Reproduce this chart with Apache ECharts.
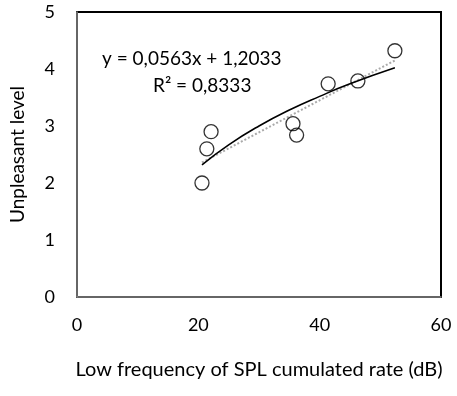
<!DOCTYPE html>
<html><head><meta charset="utf-8">
<script src="https://cdn.jsdelivr.net/npm/echarts@6/dist/echarts.min.js"></script>
<style>html,body{margin:0;padding:0;background:#fff}#c{width:457px;height:396px}</style>
</head><body><div id="c"></div>
<script>
// Observed points (x: Low frequency of SPL cumulated rate dB, y: Unpleasant level)
var pointsX = [20.6, 21.4, 22.1, 35.6, 36.2, 41.4, 46.3, 52.4];
var pointsY = [2.0, 2.6, 2.9, 3.04, 2.84, 3.74, 3.79, 4.32];
// Solid curve
var curveX = [20.6, 25, 30, 35, 40, 45, 52.4];
var curveY = [2.32, 2.67, 3.0, 3.28, 3.52, 3.74, 4.02];
// Dotted linear trend line endpoints (y = 0,0563x + 1,2033)
var trendX = [20.6, 52.4];
var trendY = [2.36, 4.15];
var xTicks = [0, 20, 40, 60];
var yTicks = [0, 1, 2, 3, 4, 5];
var eqText = 'y = 0,0563x + 1,2033';
var r2Text = 'R² = 0,8333';

function zip(a, b) { return a.map(function (v, i) { return [v, b[i]]; }); }
var FONT = 'Lato';
var chart = echarts.init(document.getElementById('c'));
chart.setOption({
  animation: false,
  backgroundColor: '#fff',
  grid: { left: 77, right: 16, top: 12, bottom: 99, show: true, borderColor: '#000', borderWidth: 2, backgroundColor: 'transparent' },
  xAxis: {
    type: 'value', min: xTicks[0], max: xTicks[xTicks.length - 1], interval: 20,
    name: 'Low frequency of SPL cumulated rate (dB)', nameLocation: 'middle', nameGap: 63,
    nameTextStyle: { fontFamily: FONT, fontSize: 20, color: '#000' },
    axisLine: { show: true, lineStyle: { color: '#888', width: 1.5 } },
    axisTick: { show: false }, splitLine: { show: false },
    axisLabel: { margin: 19, fontFamily: FONT, fontSize: 18, color: '#000' }
  },
  yAxis: {
    type: 'value', min: yTicks[0], max: yTicks[yTicks.length - 1], interval: 1,
    name: 'Unpleasant level', nameLocation: 'middle', nameGap: 50,
    nameTextStyle: { fontFamily: FONT, fontSize: 19, color: '#000' },
    axisLine: { show: true, lineStyle: { color: '#888', width: 1.5 } },
    axisTick: { show: false }, splitLine: { show: false },
    axisLabel: { margin: 22, fontFamily: FONT, fontSize: 18, color: '#000' }
  },
  series: [
    { type: 'line', data: zip(trendX, trendY), symbol: 'none', z: 2,
      lineStyle: { color: '#aaa', width: 2, type: 'dotted' } },
    { type: 'line', data: zip(curveX, curveY), symbol: 'none', smooth: true, z: 3,
      lineStyle: { color: '#000', width: 1.6 } },
    { type: 'scatter', data: zip(pointsX, pointsY), symbol: 'circle', symbolSize: 14, z: 4,
      itemStyle: { color: 'rgba(0,0,0,0)', borderColor: '#000', borderWidth: 1.3 } }
  ],
  graphic: [
    { type: 'text', left: 102, top: 49, style: { text: eqText, font: '19px Lato', fill: '#000' } },
    { type: 'text', left: 153, top: 76, style: { text: r2Text, font: '19px Lato', fill: '#000' } }
  ]
});
</script></body></html>
